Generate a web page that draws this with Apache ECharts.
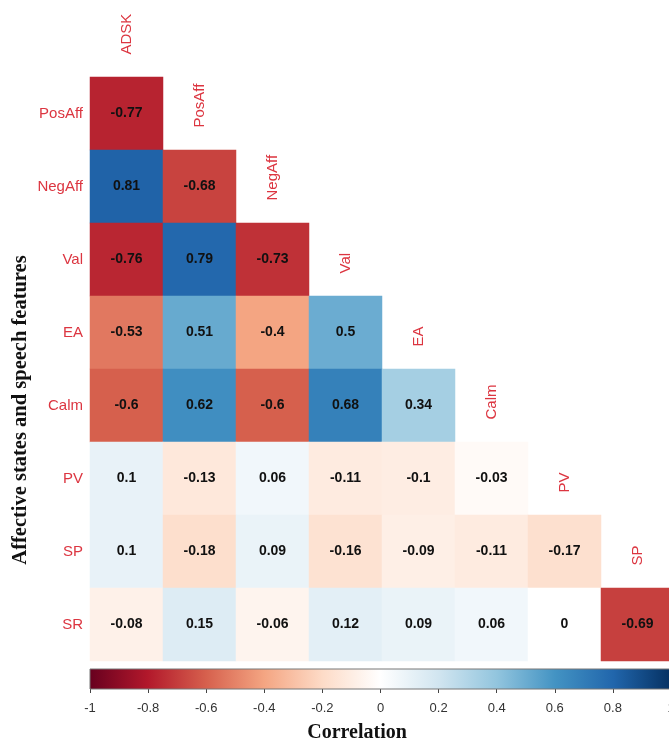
<!DOCTYPE html>
<html>
<head>
<meta charset="utf-8">
<script src="https://cdn.jsdelivr.net/npm/echarts@6/dist/echarts.min.js"></script>
<style>
html,body{margin:0;padding:0;background:#fff;}
#chart{width:669px;height:742px;}
</style>
</head>
<body>
<div id="chart"></div>
<script>
// ---- data ----
var colNames = ['ADSK', 'PosAff', 'NegAff', 'Val', 'EA', 'Calm', 'PV', 'SP'];
var rowNames = ['PosAff', 'NegAff', 'Val', 'EA', 'Calm', 'PV', 'SP', 'SR'];
var rowPosAff = [-0.77];
var rowNegAff = [0.81, -0.68];
var rowVal    = [-0.76, 0.79, -0.73];
var rowEA     = [-0.53, 0.51, -0.4, 0.5];
var rowCalm   = [-0.6, 0.62, -0.6, 0.68, 0.34];
var rowPV     = [0.1, -0.13, 0.06, -0.11, -0.1, -0.03];
var rowSP     = [0.1, -0.18, 0.09, -0.16, -0.09, -0.11, -0.17];
var rowSR     = [-0.08, 0.15, -0.06, 0.12, 0.09, 0.06, 0, -0.69];
var colorbarTicks = [-1, -0.8, -0.6, -0.4, -0.2, 0, 0.2, 0.4, 0.6, 0.8, 1];
var palette = ['#67001F', '#B2182B', '#D6604D', '#F4A582', '#FDDBC7', '#FFFFFF',
               '#D1E5F0', '#92C5DE', '#4393C3', '#2166AC', '#053061'];

var matrixRows = [rowPosAff, rowNegAff, rowVal, rowEA, rowCalm, rowPV, rowSP, rowSR];
var yCats = [''].concat(rowNames);
var heatData = [];
matrixRows.forEach(function (vals, r) {
  vals.forEach(function (v, c) { heatData.push([c, r + 1, v]); });
});
var labelData = colNames.map(function (n, j) { return [j, j]; });

var labelRed = '#DC3540';
var chart = echarts.init(document.getElementById('chart'), null, {renderer: 'canvas'});

var gradStops = palette.map(function (c, i) { return {offset: i / (palette.length - 1), color: c}; });

chart.setOption({
  animation: false,
  backgroundColor: '#fff',
  grid: [
    {left: 90, top: 4, width: 584, height: 657, outerBoundsMode: 'none', containLabel: false},
    {left: 90, top: 669, width: 581, height: 20, outerBoundsMode: 'none', containLabel: false}
  ],
  xAxis: [
    {type: 'category', data: colNames, gridIndex: 0, show: false},
    {type: 'value', gridIndex: 1, min: -1, max: 1, interval: 0.2,
     axisLine: {show: false}, splitLine: {show: false},
     axisTick: {show: true, length: 4, lineStyle: {color: '#444', width: 1}},
     axisLabel: {color: '#333', fontSize: 13, fontFamily: 'Liberation Sans, Arial, sans-serif', margin: 13,
       hideOverlap: false, showMaxLabel: true, showMinLabel: true,
       formatter: function (v) { return String(Math.round(v * 10) / 10); }}}
  ],
  yAxis: [
    {type: 'category', data: yCats, gridIndex: 0, inverse: true,
     axisLine: {show: false}, axisTick: {show: false}, splitLine: {show: false},
     axisLabel: {color: labelRed, fontSize: 15, fontFamily: 'Liberation Sans, Arial, sans-serif', margin: 7}},
    {type: 'value', gridIndex: 1, min: 0, max: 1, show: false}
  ],
  visualMap: {
    show: false, min: -1, max: 1, dimension: 2, seriesIndex: 0,
    inRange: {color: palette}
  },
  series: [
    {
      type: 'heatmap', xAxisIndex: 0, yAxisIndex: 0, data: heatData,
      label: {show: true, color: '#111', fontWeight: 'bold', fontSize: 14,
        fontFamily: 'Liberation Sans, Arial, sans-serif',
        formatter: function (p) { return String(p.value[2]); }},
      itemStyle: {borderWidth: 0},
      emphasis: {disabled: true}
    },
    {
      type: 'custom', xAxisIndex: 0, yAxisIndex: 0, data: labelData, silent: true,
      renderItem: function (params, api) {
        var p = api.coord([api.value(0), api.value(1)]);
        return {
          type: 'text', x: p[0], y: p[1] + 14, rotation: Math.PI / 2,
          style: {text: colNames[params.dataIndex], fill: labelRed, fontSize: 15,
            fontFamily: 'Liberation Sans, Arial, sans-serif', align: 'left', verticalAlign: 'middle'}
        };
      }
    },
    {
      type: 'custom', xAxisIndex: 1, yAxisIndex: 1, data: [[colorbarTicks[0], 1]], silent: true,
      renderItem: function (params, api) {
        var a = api.coord([colorbarTicks[0], 1]);
        var b = api.coord([colorbarTicks[colorbarTicks.length - 1], 0]);
        return {
          type: 'rect',
          shape: {x: a[0], y: a[1], width: b[0] - a[0], height: b[1] - a[1]},
          style: {fill: new echarts.graphic.LinearGradient(0, 0, 1, 0, gradStops), stroke: '#777', lineWidth: 1}
        };
      }
    }
  ],
  graphic: [
    {type: 'text', x: 21, y: 410, rotation: Math.PI / 2,
     style: {text: 'Affective states and speech features', font: 'bold 20.5px "Liberation Serif", "Times New Roman", serif',
       fill: '#111', align: 'center', verticalAlign: 'middle'}},
    {type: 'text', x: 357, y: 733,
     style: {text: 'Correlation', font: 'bold 20px "Liberation Serif", "Times New Roman", serif', fill: '#111',
       align: 'center', verticalAlign: 'middle'}}
  ]
});
</script>
</body>
</html>
